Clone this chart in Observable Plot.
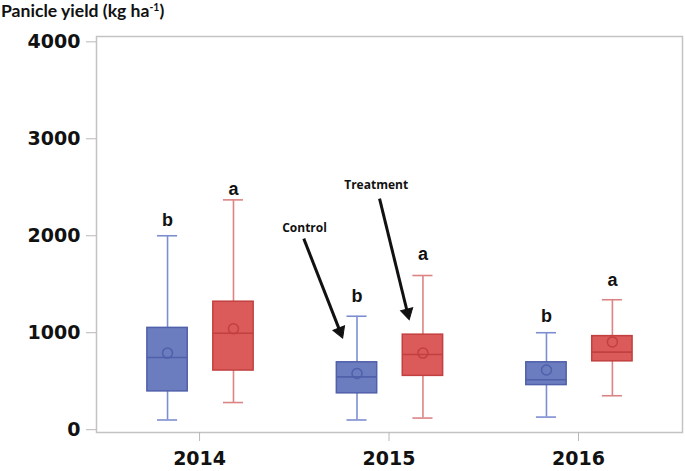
<!DOCTYPE html>
<html>
<head>
<meta charset="utf-8">
<script src="https://cdn.jsdelivr.net/npm/d3@7"></script>
<script src="https://cdn.jsdelivr.net/npm/@observablehq/plot@0.6"></script>
<style>
  body { margin: 0; background: #fff; }
  #wrap { position: relative; width: 685px; height: 471px; }
  #title { position: absolute; left: 1px; top: 0px; font-family: Lato, "Open Sans", sans-serif; font-weight: bold; font-size: 17.6px; color: #111; line-height: 22px; white-space: nowrap; }
  #title sup { font-size: 10.5px; vertical-align: 6px; line-height: 0; }
</style>
</head>
<body>
<div id="wrap">
  <div id="chart"></div>
  <div id="title">Panicle yield (kg ha<sup>-1</sup>)</div>
</div>
<script>
// ---- data ----
const years = [2014, 2015, 2016];
const groups = ["Control", "Treatment"];
const whiskerLow  = { Control: [100, 100, 130],   Treatment: [280, 120, 350] };
const q1          = { Control: [395, 375, 460],   Treatment: [610, 555, 705] };
const median      = { Control: [745, 545, 515],   Treatment: [995, 775, 800] };
const q3          = { Control: [1050, 695, 695],  Treatment: [1320, 980, 965] };
const whiskerHigh = { Control: [2000, 1170, 1000], Treatment: [2370, 1590, 1340] };
const mean        = { Control: [790, 580, 615],   Treatment: [1040, 790, 905] };
const letters     = { Control: ["b", "b", "b"],   Treatment: ["a", "a", "a"] };
const letterY     = { Control: [2100, 1317, 1111], Treatment: [2416, 1747, 1482] };
const yTicks = [0, 1000, 2000, 3000, 4000];

// annotation arrows and labels (data units)
const arrowLabels = ["Control", "Treatment"];
const labelX = [2014.554, 2014.932];
const labelY = [2076, 2519];
const arrowFromX = [2014.550, 2014.950];
const arrowFromY = [1970, 2382];
const arrowToX = [2014.753, 2015.105];
const arrowToY = [956, 1146];

// ---- layout / styling ----
const W = 685, H = 471, mL = 96, mR = 3, mT = 36, mB = 39;
const xDomain = [2013.456, 2016.549], yDomain = [-29, 4055];
const offset = { Control: -0.169, Treatment: 0.179 };
const boxW = 0.213, capW = 0.106;
const fillC   = { Control: "#6b7cbf", Treatment: "#db5a5a" };
const strokeC = { Control: "#5060aa", Treatment: "#c2403f" };
const whiskC  = { Control: "#7d8ed0", Treatment: "#dc8484" };

const rows = [];
for (const g of groups) {
  years.forEach((yr, i) => {
    const c = yr + offset[g];
    rows.push({
      group: g, year: yr, c,
      x1: c - boxW / 2, x2: c + boxW / 2,
      cx1: c - capW / 2, cx2: c + capW / 2,
      lo: whiskerLow[g][i], q1: q1[g][i], med: median[g][i], q3: q3[g][i],
      hi: whiskerHigh[g][i], mean: mean[g][i],
      letter: letters[g][i], ly: letterY[g][i]
    });
  });
}

// arrow geometry: mirror scales to orient the filled heads
const sx = d3.scaleLinear(xDomain, [mL, W - mR]);
const sy = d3.scaleLinear(yDomain, [H - mB, mT]);
const headBack = 6; // px from tip to triangle centroid
const arrows = arrowLabels.map((label, i) => {
  const px1 = sx(arrowFromX[i]), py1 = sy(arrowFromY[i]);
  const px2 = sx(arrowToX[i]), py2 = sy(arrowToY[i]);
  const dx = px2 - px1, dy = py2 - py1, len = Math.hypot(dx, dy);
  const cxp = px2 - dx / len * headBack, cyp = py2 - dy / len * headBack;
  return {
    label, tx: labelX[i], ty: labelY[i],
    x1: arrowFromX[i], y1: arrowFromY[i],
    hx: sx.invert(cxp), hy: sy.invert(cyp),
    rot: Math.atan2(dx, -dy) * 180 / Math.PI
  };
});

const chart = Plot.plot({
  width: W,
  height: H,
  marginLeft: mL,
  marginRight: mR,
  marginTop: mT,
  marginBottom: mB,
  style: { background: "#fff" },
  x: { domain: xDomain, label: null },
  y: { domain: yDomain, label: null },
  marks: [
    Plot.frame({ stroke: "#c3c3c3", strokeWidth: 1.5 }),
    Plot.axisY({ ticks: yTicks, tickFormat: d => String(d), tickSize: 10, tickPadding: 6, stroke: "#b8b8b8", fill: "#111",
                 fontFamily: "DejaVu Sans", fontWeight: "bold", fontSize: 19, label: null }),
    Plot.axisX({ ticks: years, tickFormat: d => String(d), tickSize: 9, tickPadding: 10, stroke: "#b8b8b8", fill: "#111",
                 fontFamily: "DejaVu Sans", fontWeight: "bold", fontSize: 19, label: null }),
    Plot.ruleX(rows, { x: "c", y1: "lo", y2: "hi", stroke: d => whiskC[d.group], strokeWidth: 1.6 }),
    Plot.ruleY(rows, { y: "lo", x1: "cx1", x2: "cx2", stroke: d => whiskC[d.group], strokeWidth: 1.6 }),
    Plot.ruleY(rows, { y: "hi", x1: "cx1", x2: "cx2", stroke: d => whiskC[d.group], strokeWidth: 1.6 }),
    Plot.rect(rows, { x1: "x1", x2: "x2", y1: "q1", y2: "q3", fill: d => fillC[d.group], stroke: d => strokeC[d.group], strokeWidth: 1.5 }),
    Plot.ruleY(rows, { y: "med", x1: "x1", x2: "x2", stroke: d => strokeC[d.group], strokeWidth: 1.6 }),
    Plot.dot(rows, { x: "c", y: "mean", r: 5, stroke: d => strokeC[d.group], strokeWidth: 1.5, fill: "none" }),
    Plot.text(rows, { x: "c", y: "ly", text: "letter", lineAnchor: "bottom", fill: "#111",
                      fontFamily: "Liberation Sans", fontWeight: "bold", fontSize: 18 }),
    Plot.link(arrows, { x1: "x1", y1: "y1", x2: "hx", y2: "hy", stroke: "#111", strokeWidth: 3 }),
    Plot.dot(arrows, { x: "hx", y: "hy", symbol: "triangle", r: 4.6, rotate: "rot", fill: "#111", stroke: "#111", strokeWidth: 1 }),
    Plot.text(arrows, { x: "tx", y: "ty", text: "label", fill: "#111", fontFamily: "Open Sans", fontWeight: "bold", fontSize: 12 })
  ]
});
document.getElementById("chart").appendChild(chart);
</script>
</body>
</html>
